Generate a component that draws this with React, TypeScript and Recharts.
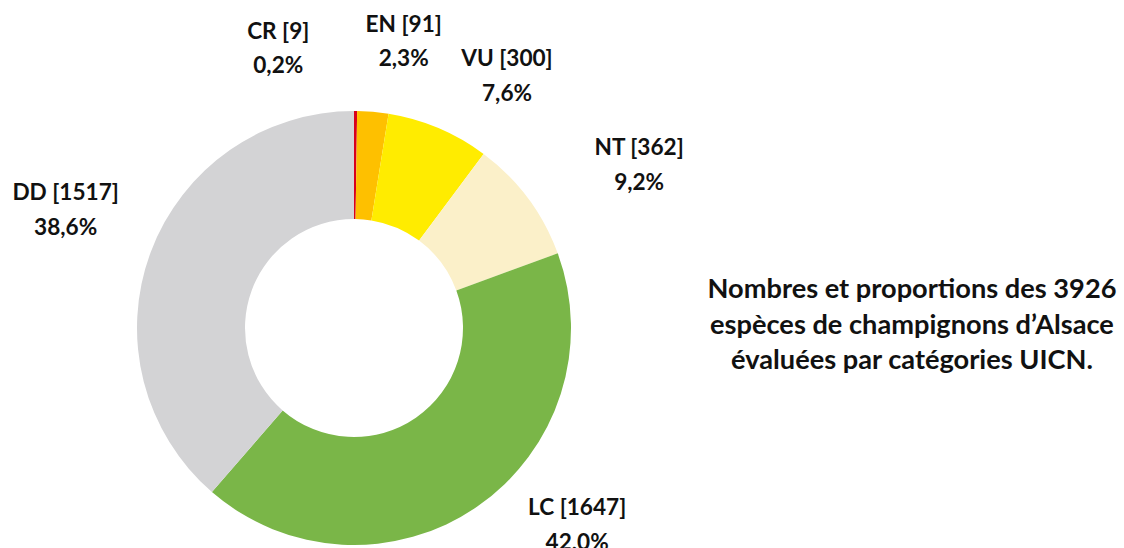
import { PieChart, Pie, Cell } from 'recharts'

const categories = ['CR', 'EN', 'VU', 'NT', 'LC', 'DD']
const counts = [9, 91, 300, 362, 1647, 1517]
const colors = ['#d9001b', '#fec000', '#ffec00', '#fbf0c9', '#7ab648', '#d3d3d5']

// label placement around the ring: distance from center and angular nudge (deg, clockwise)
const labelRadius = [291, 292, 296, 329, 297, 312]
const labelShift = [-15.5, 4.8, 8.2, 6.8, -14.1, 2.0]

const titleLines = [
  'Nombres et proportions des 3926',
  'espèces de champignons d\u2019Alsace',
  'évaluées par catégories UICN.',
]

const total = counts.reduce((s, v) => s + v, 0)
const data = categories.map((name, i) => ({ name, value: counts[i] }))

const FONT = 'Lato, "Open Sans", sans-serif'
const RAD = Math.PI / 180

function renderLabel(props: any) {
  const { cx, cy, midAngle, index } = props
  const theta = (90 - midAngle + labelShift[index]) * RAD
  const r = labelRadius[index]
  const x = cx + r * Math.sin(theta)
  const y = cy - r * Math.cos(theta)
  const pct = ((counts[index] / total) * 100).toFixed(1).replace('.', ',')
  return (
    <text
      x={x}
      y={y}
      textAnchor="middle"
      fill="#111"
      fontFamily={FONT}
      fontWeight={700}
      fontSize={22.6}
    >
      <tspan x={x} y={y - 17} dominantBaseline="central">{`${categories[index]} [${counts[index]}]`}</tspan>
      <tspan x={x} y={y + 17.5} dominantBaseline="central">{`${pct}%`}</tspan>
    </text>
  )
}

export default function App() {
  return (
    <div style={{ position: 'absolute', left: 0, top: 0, width: 1124, height: 548, background: '#fff', overflow: 'hidden' }}>
      <PieChart width={1124} height={548} margin={{ top: 0, right: 0, bottom: 0, left: 0 }}>
        <Pie
          data={data}
          dataKey="value"
          nameKey="name"
          cx={354}
          cy={328}
          innerRadius={109}
          outerRadius={217}
          startAngle={90}
          endAngle={-270}
          stroke="none"
          label={renderLabel}
          labelLine={false}
          isAnimationActive={false}
        >
          {data.map((d, i) => (
            <Cell key={d.name} fill={colors[i]} />
          ))}
        </Pie>
      </PieChart>
      <div
        style={{
          position: 'absolute',
          left: 700,
          top: 270,
          width: 424,
          textAlign: 'center',
          fontFamily: FONT,
          fontWeight: 700,
          fontSize: 27.2,
          lineHeight: '35.5px',
          color: '#111',
        }}
      >
        {titleLines.map((t) => (
          <div key={t}>{t}</div>
        ))}
      </div>
    </div>
  )
}
